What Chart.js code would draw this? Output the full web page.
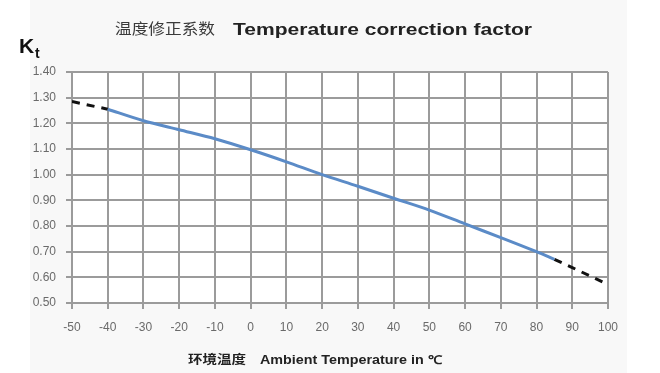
<!DOCTYPE html>
<html>
<head>
<meta charset="utf-8">
<script src="https://cdn.jsdelivr.net/npm/chart.js@4.4.1/dist/chart.umd.min.js"></script>
<style>
  html, body { margin: 0; padding: 0; background: #ffffff; }
  #wrap { width: 660px; height: 373px; }
</style>
</head>
<body>
<div id="wrap"><canvas id="graphKt" width="660" height="373"></canvas></div>
<script>
// --- données ---
const tempsSolide = [-40, -30, -20, -10, 0, 10, 20, 30, 40, 50, 60, 70, 80, 85];
const ktSolide = [1.255, 1.21, 1.175, 1.14, 1.097, 1.05, 1.00, 0.955, 0.908, 0.862, 0.808, 0.755, 0.70, 0.67];
const tempsPointille = [-50, -40, null, 85, 90, 100];
const ktPointille = [1.285, 1.255, null, 0.67, 0.638, 0.572];
const xTicks = [-50, -40, -30, -20, -10, 0, 10, 20, 30, 40, 50, 60, 70, 80, 90, 100];
const yTicks = [0.5, 0.6, 0.7, 0.8, 0.9, 1.0, 1.1, 1.2, 1.3, 1.4];

const titreCn = '温度修正系数';
const titreEn = 'Temperature correction factor';
const axeXCn = '环境温度';
const axeXEn = 'Ambient Temperature in ℃';

const gris = '#9b9b9b';

function points(xs, ys) {
    return xs.map((x, i) => ({ x: x, y: ys[i] }));
}

// texte étiré horizontalement pour tenir dans une largeur donnée
function texteEtire(c, txt, x, y, police, largeur) {
    c.font = police;
    const w = c.measureText(txt).width;
    c.save();
    c.translate(x, y);
    c.scale(largeur / w, 1);
    c.fillText(txt, 0, 0);
    c.restore();
}

// fond du panneau et zone de tracé, puis les textes
const decor = {
    id: 'decor',
    beforeDraw(chart) {
        const c = chart.ctx;
        const a = chart.chartArea;
        c.save();
        c.fillStyle = '#f8f8f8';
        c.fillRect(30, 0, 597, chart.height);
        c.fillStyle = '#ffffff';
        c.fillRect(a.left, a.top, a.right - a.left, a.bottom - a.top);
        c.restore();
    },
    afterDraw(chart) {
        const c = chart.ctx;
        c.save();
        c.textBaseline = 'alphabetic';
        c.textAlign = 'left';
        // titre
        c.fillStyle = '#3a3a3a';
        texteEtire(c, titreCn, 115, 34, '15px "Noto Sans CJK SC"', 100);
        c.fillStyle = '#222222';
        texteEtire(c, titreEn, 233, 35, 'bold 17px "Liberation Sans"', 299);
        // K_t
        c.fillStyle = '#111111';
        c.font = 'bold 21px "Liberation Sans"';
        c.fillText('K', 19, 53);
        c.font = 'bold 14px "Liberation Sans"';
        c.fillText('t', 35, 58);
        // titre de l'axe x
        c.fillStyle = '#222222';
        texteEtire(c, axeXCn, 188, 364, 'bold 12px "Noto Sans CJK SC"', 58);
        texteEtire(c, axeXEn, 260, 364, 'bold 12px "Liberation Sans"', 182);
        c.restore();
    }
};

const ctx = document.getElementById('graphKt').getContext('2d');
new Chart(ctx, {
    type: 'line',
    data: {
        datasets: [{
            data: points(tempsSolide, ktSolide),
            borderColor: '#5b8bc7',
            borderWidth: 3,
            pointRadius: 0,
            tension: 0.3,
            fill: false
        }, {
            data: points(tempsPointille, ktPointille),
            borderColor: '#111111',
            borderWidth: 3,
            borderDash: [8, 7],
            pointRadius: 0,
            spanGaps: false,
            tension: 0,
            fill: false
        }]
    },
    options: {
        responsive: false,
        animation: false,
        layout: { padding: { top: 72, right: 52, left: 0, bottom: 0 } },
        plugins: {
            legend: { display: false },
            tooltip: { enabled: false }
        },
        scales: {
            x: {
                type: 'linear',
                min: -50,
                max: 100,
                afterFit: s => { s.height = 70; },
                afterBuildTicks: s => { s.ticks = xTicks.map(v => ({ value: v })); },
                grid: { color: gris, lineWidth: 2, tickLength: 6 },
                border: { color: gris, width: 2 },
                ticks: {
                    color: '#6a6a6a',
                    font: { family: 'Liberation Sans', size: 12 },
                    padding: 11,
                    maxRotation: 0,
                    autoSkip: false
                }
            },
            y: {
                min: 0.5,
                max: 1.4,
                afterFit: s => { s.width = 72; },
                afterBuildTicks: s => { s.ticks = yTicks.map(v => ({ value: v })); },
                grid: { color: gris, lineWidth: 2, tickLength: 6 },
                border: { color: gris, width: 2 },
                ticks: {
                    color: '#6a6a6a',
                    font: { family: 'Liberation Sans', size: 12 },
                    padding: 10,
                    callback: v => v.toFixed(2)
                }
            }
        }
    },
    plugins: [decor]
});
</script>
</body>
</html>
